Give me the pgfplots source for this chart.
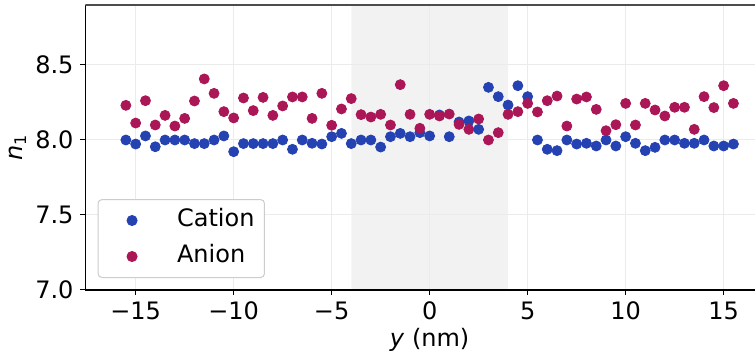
\documentclass[border=0pt]{standalone}
\usepackage{fontspec}
\setmainfont{DejaVu Sans}
\usepackage{pgfplots}
\pgfplotsset{compat=1.18}
\definecolor{cat}{RGB}{36,66,178}
\definecolor{ani}{RGB}{170,22,86}

\pgfplotstableread{
x y
-15.5 8.000
-15.0 7.973
-14.5 8.027
-14.0 7.955
-13.5 8.000
-13.0 8.000
-12.5 8.000
-12.0 7.976
-11.5 7.976
-11.0 8.000
-10.5 8.027
-10.0 7.922
-9.5 7.976
-9.0 7.976
-8.5 7.976
-8.0 7.976
-7.5 8.000
-7.0 7.938
-6.5 8.000
-6.0 7.978
-5.5 7.973
-5.0 8.022
-4.5 8.044
-4.0 7.976
-3.5 8.000
-3.0 8.000
-2.5 7.953
-2.0 8.022
-1.5 8.044
-1.0 8.022
-0.5 8.049
0.0 8.027
0.5 8.167
1.0 8.022
1.5 8.120
2.0 8.127
2.5 8.071
3.0 8.351
3.5 8.289
4.0 8.233
4.5 8.362
5.0 8.289
5.5 8.000
6.0 7.938
6.5 7.929
7.0 8.000
7.5 7.973
8.0 7.978
8.5 7.960
9.0 8.000
9.5 7.960
10.0 8.022
10.5 7.978
11.0 7.929
11.5 7.951
12.0 8.000
12.5 8.000
13.0 7.978
13.5 7.978
14.0 8.000
14.5 7.960
15.0 7.960
15.5 7.973
}\cation

\pgfplotstableread{
x y
-15.5 8.231
-15.0 8.113
-14.5 8.262
-14.0 8.100
-13.5 8.164
-13.0 8.093
-12.5 8.144
-12.0 8.260
-11.5 8.407
-11.0 8.311
-10.5 8.189
-10.0 8.147
-9.5 8.280
-9.0 8.196
-8.5 8.284
-8.0 8.164
-7.5 8.227
-7.0 8.287
-6.5 8.287
-6.0 8.144
-5.5 8.311
-5.0 8.098
-4.5 8.207
-4.0 8.276
-3.5 8.169
-3.0 8.153
-2.5 8.171
-2.0 8.100
-1.5 8.369
-1.0 8.171
-0.5 8.078
0.0 8.171
0.5 8.160
1.0 8.173
1.5 8.104
2.0 8.071
2.5 8.140
3.0 8.000
3.5 8.049
4.0 8.171
4.5 8.189
5.0 8.244
5.5 8.187
6.0 8.262
6.5 8.293
7.0 8.093
7.5 8.273
8.0 8.287
8.5 8.204
9.0 8.062
9.5 8.102
10.0 8.244
10.5 8.100
11.0 8.244
11.5 8.200
12.0 8.160
12.5 8.218
13.0 8.218
13.5 8.071
14.0 8.289
14.5 8.216
15.0 8.362
15.5 8.244
}\anion

\begin{document}
\begin{tikzpicture}[font=\fontsize{12}{14.4}\selectfont]
\begin{axis}[
  set layers=standard,
  scale only axis, width=334.75pt, height=142.5pt,
  xmin=-17.56, xmax=16.6, ymin=7, ymax=8.9,
  axis x line*=bottom, axis y line*=left,
  axis line style={-, line width=0.6pt, black},
  xtick={-15,-10,...,15}, xticklabels={−15,−10,−5,0,5,10,15},
  ytick={7,7.5,8,8.5}, yticklabels={7.0,7.5,8.0,8.5},
  tick align=outside, major tick length=2.5pt,
  tick style={line width=0.5pt, black},
  grid=major, major grid style={color=black!8, line width=0.5pt},
  xlabel={\textit{y} (nm)}, ylabel={\textit{n}\textsubscript{1}},
  xlabel style={at={(axis description cs:0.514,-0.175)}, anchor=center},
  ylabel style={at={(axis description cs:-0.1015,0.5)}, anchor=center},
  legend style={at={(0.018,0.042)}, anchor=south west, draw=black!20,
    rounded corners=2pt, inner xsep=0pt, inner ysep=4.5pt, row sep=6pt,
    column sep=5.5pt, line width=0.5pt,
    nodes={inner xsep=0pt, inner ysep=0pt, text height=9pt, text depth=3pt}},
  legend cell align=left,
  legend image code/.code={\path[draw=none,fill=none] (0pt,-1pt) rectangle (34pt,1pt);
    \draw[mark repeat=2,mark phase=2,#1] plot coordinates {(0pt,0pt) (17pt,0pt) (34pt,0pt)};},
]
\addplot[fill=black!5, draw=none, on layer=axis background, forget plot]
  coordinates {(-4,7) (4,7) (4,8.9) (-4,8.9)} \closedcycle;
\addplot[only marks, mark=*, mark size=2.5pt, color=cat, mark options={draw=cat, fill=cat}] table[x=x,y=y] {\cation};
\addlegendentry{Cation\hspace*{5pt}}
\addplot[only marks, mark=*, mark size=2.5pt, color=ani, mark options={draw=ani, fill=ani}] table[x=x,y=y] {\anion};
\addlegendentry{Anion}
\draw[black!70, line width=0.8pt] (rel axis cs:0,1) -- (rel axis cs:1,1);
\end{axis}
\pgfresetboundingbox
\path ([shift={(-42.75pt,-34pt)}]current axis.south west) rectangle ([shift={(0pt,2.5pt)}]current axis.north east);
\end{tikzpicture}
\end{document}
